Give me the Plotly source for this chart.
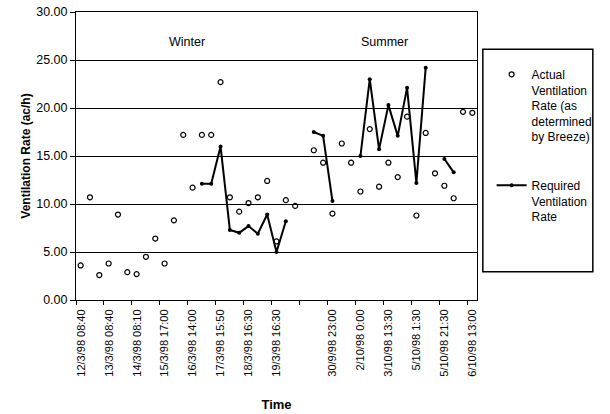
import plotly.graph_objects as go

# ---- data ----
n_categories = 43
category_index = list(range(n_categories))

tick_positions = [0, 3, 6, 9, 12, 15, 18, 21, 24, 27, 30, 33, 36, 39, 42]
tick_labels = [
    "12/3/98 08:40", "13/3/98 08:40", "14/3/98 08:10", "15/3/98 17:00",
    "16/3/98 14:00", "17/3/98 15:50", "18/3/98 16:30", "19/3/98 16:30",
    "", "30/9/98 23:00", "2/10/98 0:00", "3/10/98 13:30", "5/10/98 1:30",
    "5/10/98 21:30", "6/10/98 13:00",
]

actual_rate = [
    3.6, 10.7, 2.6, 3.8, 8.9, 2.9, 2.7, 4.5, 6.4, 3.8,
    8.3, 17.2, 11.7, 17.2, 17.2, 22.7, 10.7, 9.2, 10.1, 10.7,
    12.4, 6.1, 10.4, 9.8, None, 15.6, 14.3, 9.0, 16.3, 14.3,
    11.3, 17.8, 11.8, 14.3, 12.8, 19.1, 8.8, 17.4, 13.2, 11.9,
    10.6, 19.6, 19.5,
]

required_rate = [
    None, None, None, None, None, None, None, None, None, None,
    None, None, None, 12.1, 12.1, 16.0, 7.3, 7.0, 7.7, 6.9,
    8.9, 5.0, 8.2, None, None, 17.5, 17.1, 10.3, None, None,
    15.0, 23.0, 15.7, 20.3, 17.1, 22.1, 12.2, 24.2, None, 14.7,
    13.3, None, None,
]

season_labels = ["Winter", "Summer"]
season_x = [11.4, 32.6]
season_y = [26.9, 26.9]

# ---- figure ----
FONT = "Liberation Sans, Arial, sans-serif"
W, H = 610, 414
ML, MR, MT, MB = 76, 122, 12, 114
plot_w = W - ML - MR
plot_h = H - MT - MB
half_cat_px = int(round(plot_w / n_categories / 2))

fig = go.Figure()
fig.add_trace(go.Scatter(
    x=category_index, y=actual_rate, mode="markers",
    name="Actual<br>Ventilation<br>Rate (as<br>determined<br>by Breeze)",
    marker=dict(symbol="circle-open", size=5, color="black", line=dict(width=1.2, color="black")),
    legendgroup="a",
))
fig.add_trace(go.Scatter(
    x=category_index, y=required_rate, mode="lines+markers",
    name="Required<br>Ventilation<br>Rate",
    line=dict(color="black", width=2),
    marker=dict(symbol="circle", size=4, color="black"),
    connectgaps=False,
    legendgroup="b",
))

for lab, xv, yv in zip(season_labels, season_x, season_y):
    fig.add_annotation(x=xv, y=yv, text=lab, showarrow=False,
                       font=dict(family=FONT, size=12.5, color="black"))

# legend box
fig.add_shape(type="rect", xref="paper", yref="paper",
              x0=(494 - ML) / plot_w, x1=(607 - ML) / plot_w,
              y0=(300 - 271.7) / plot_h, y1=(300 - 49.3) / plot_h,
              line=dict(color="black", width=1.5), fillcolor="rgba(0,0,0,0)")

fig.update_layout(
    width=W, height=H,
    margin=dict(l=ML, r=MR, t=MT, b=MB),
    paper_bgcolor="white", plot_bgcolor="white",
    font=dict(family=FONT, size=12, color="black"),
    showlegend=True,
    legend=dict(
        x=(503 - ML) / plot_w, xanchor="left",
        y=(300 - 60) / plot_h, yanchor="top",
        bgcolor="rgba(0,0,0,0)", borderwidth=0,
        valign="top", tracegroupgap=30,
        font=dict(family=FONT, size=12, color="black"),
    ),
)

fig.update_xaxes(
    range=[-0.5, n_categories - 0.5],
    tickmode="array",
    tickvals=[p - 0.5 for p in tick_positions],
    ticktext=tick_labels,
    ticklabelshift=half_cat_px,
    tickangle=-90,
    ticks="outside", ticklen=4, tickcolor="black",
    showgrid=False, zeroline=False, automargin=False,
    showline=True, linecolor="black", linewidth=1, mirror=True,
    tickfont=dict(family=FONT, size=11, color="black"),
    title=dict(text="<b>Time</b>", font=dict(family=FONT, size=13, color="black"), standoff=24),
)
fig.update_yaxes(
    range=[0, 30], dtick=5, tickformat=".2f",
    ticks="outside", ticklen=5, tickcolor="black",
    showgrid=True, gridcolor="black", gridwidth=1,
    zeroline=False, automargin=False,
    showline=True, linecolor="black", linewidth=1, mirror=True,
    tickfont=dict(family=FONT, size=12.5, color="black"),
    title=dict(text="<b>Ventilation Rate (ac/h)</b>", font=dict(family=FONT, size=12, color="black"), standoff=3),
)

fig.write_html("out.html", config={"displayModeBar": False},
               post_script="document.body.style.margin='0';")
